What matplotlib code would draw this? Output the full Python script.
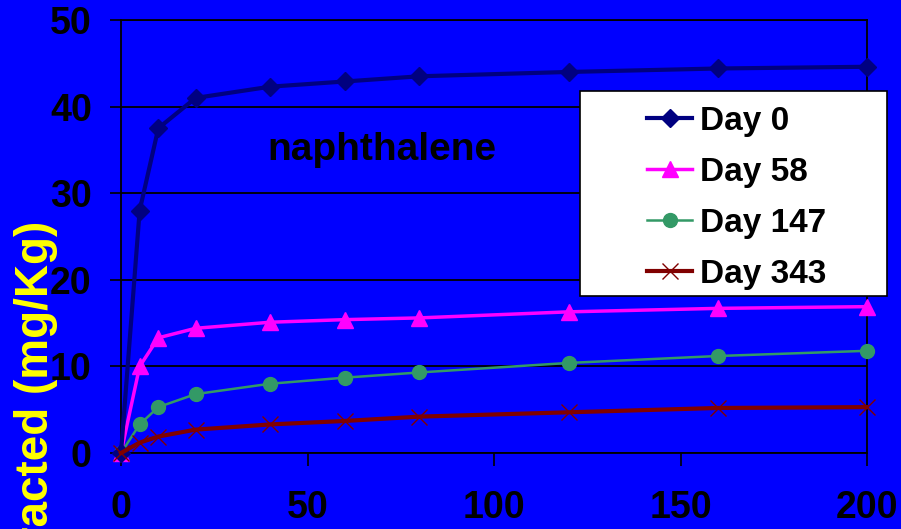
import matplotlib
matplotlib.use('Agg')
import matplotlib.pyplot as plt
from matplotlib.patches import Rectangle

plt.rcParams['font.family'] = ['Liberation Sans', 'DejaVu Sans']
plt.rcParams['font.weight'] = 'bold'

# sampling times (days of extraction)
times = [0, 5, 10, 20, 40, 60, 80, 120, 160, 200]

day0 = [0, 28.0, 37.5, 41.0, 42.3, 42.9, 43.5, 44.0, 44.4, 44.6]
day58 = [0, 10.0, 13.3, 14.4, 15.1, 15.4, 15.6, 16.3, 16.7, 16.9]
day147 = [0, 3.3, 5.3, 6.8, 8.0, 8.7, 9.3, 10.4, 11.2, 11.8]
day343 = [0, 1.2, 1.9, 2.7, 3.3, 3.7, 4.2, 4.7, 5.2, 5.3]

labels = ['Day 0', 'Day 58', 'Day 147', 'Day 343']
yticks = [0, 10, 20, 30, 40, 50]
xticks = [0, 50, 100, 150, 200]

blue = '#0000FF'

fig = plt.figure(figsize=(9.01, 5.29), dpi=100, facecolor=blue)
ax = fig.add_axes([121/901, 1 - 453/529, (867 - 121)/901, (453 - 20)/529])
ax.set_facecolor(blue)

ax.plot(times, day0, color='#000080', lw=3, marker='D', ms=9, label=labels[0], clip_on=False, zorder=5)
ax.plot(times, day58, color='#FF00FF', lw=2.5, marker='^', ms=11, label=labels[1], clip_on=False, zorder=4)
ax.plot(times, day147, color='#339966', lw=1.8, marker='o', ms=10, label=labels[2], clip_on=False, zorder=3)
ax.plot(times, day343, color='#800000', lw=3, marker='x', ms=12, mew=1, label=labels[3], clip_on=False, zorder=6)

ax.set_xlim(0, 200)
ax.set_ylim(0, 50)
ax.set_xticks(xticks)
ax.set_yticks(yticks)
ax.tick_params(axis='both', direction='out', colors='black', labelsize=27, width=1.2)
ax.tick_params(axis='y', length=8, pad=13)
ax.tick_params(axis='x', length=9, pad=18)
for t in ax.get_xticklabels() + ax.get_yticklabels():
    t.set_fontweight('bold')

ax.grid(axis='y', color='black', lw=1.3)
ax.set_axisbelow(True)
for s in ax.spines.values():
    s.set_color('black')
    s.set_linewidth(1.3)

ax.text(0.35, 0.70, 'naphthalene', transform=ax.transAxes, fontsize=28, fontweight='bold',
        color='black', ha='center', va='center')

fig.text(0.040, 1 - 221/529, 'Naphthalene extracted (mg/Kg)', rotation=90, color='#FFFF00',
         fontsize=33, fontweight='bold', ha='center', va='top')

# legend box
fig.patches.append(Rectangle((580/901, 1 - 296/529), (887 - 580)/901, (296 - 91)/529,
                             transform=fig.transFigure, facecolor='white', edgecolor='black',
                             lw=1.2, zorder=10))
leg = fig.legend(loc='center left', bbox_to_anchor=(647/901, 1 - 198/529), frameon=False,
                 handlelength=1.35, handletextpad=0.25, labelspacing=0.6,
                 borderpad=0, borderaxespad=0, prop={'weight': 'bold', 'size': 24})
leg.set_zorder(11)

fig.savefig('out.png', dpi=100, facecolor=blue)
